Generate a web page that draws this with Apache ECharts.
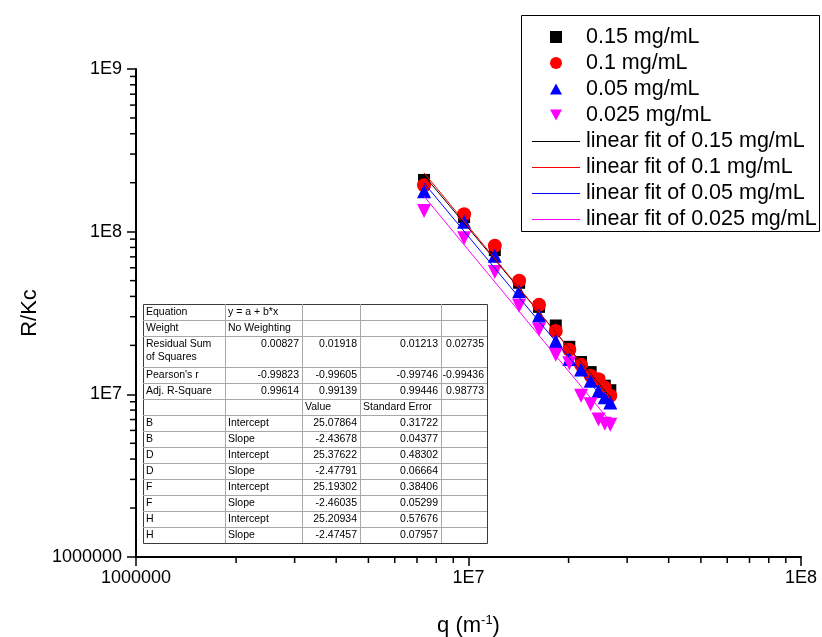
<!DOCTYPE html>
<html><head><meta charset="utf-8">
<script src="https://cdn.jsdelivr.net/npm/echarts@6/dist/echarts.min.js"></script>
<style>html,body{margin:0;padding:0;background:#fff}#c{width:822px;height:637px}</style>
</head><body><div id="c"></div>
<script>
// ---- data ----
const qValues = [7.35e6, 9.7e6, 1.2e7, 1.42e7, 1.63e7, 1.83e7, 2.01e7, 2.18e7, 2.33e7, 2.46e7, 2.57e7, 2.67e7];
const rk015  = [2.08e8, 1.23e8, 7.7e7, 4.85e7, 3.45e7, 2.65e7, 1.96e7, 1.58e7, 1.37e7, 1.21e7, 1.13e7, 1.06e7];
const rk010  = [1.93e8, 1.28e8, 8.2e7, 5.0e7, 3.55e7, 2.45e7, 1.88e7, 1.52e7, 1.30e7, 1.24e7, 1.10e7, 9.8e6];
const rk005  = [1.77e8, 1.15e8, 7.1e7, 4.3e7, 3.05e7, 2.13e7, 1.65e7, 1.42e7, 1.21e7, 1.05e7, 9.6e6, 8.9e6];
const rk0025 = [1.34e8, 9.1e7, 5.65e7, 3.5e7, 2.5e7, 1.75e7, 1.55e7, 9.8e6, 8.7e6, 7.0e6, 6.6e6, 6.5e6];
const seriesNames = ['0.15 mg/mL', '0.1 mg/mL', '0.05 mg/mL', '0.025 mg/mL'];
const fitNames = ['linear fit of 0.15 mg/mL', 'linear fit of 0.1 mg/mL', 'linear fit of 0.05 mg/mL', 'linear fit of 0.025 mg/mL'];
// fit line end points (q, R/Kc)
const fitQ      = [7.35e6, 2.67e7];
const fit015    = [2.22e8, 9.59e6];
const fit010    = [2.30e8, 9.42e6];
const fit005    = [1.99e8, 8.34e6];
const fit0025   = [1.65e8, 6.79e6];
// axes
const xTickValues = [1e6, 1e7, 1e8];
const xTickLabels = ['1000000', '1E7', '1E8'];
const yTickValues = [1e6, 1e7, 1e8, 1e9];
const yTickLabels = ['1000000', '1E7', '1E8', '1E9'];
const xMinorTicks = [2e6,3e6,4e6,5e6,6e6,7e6,8e6,9e6,2e7,3e7,4e7,5e7,6e7,7e7,8e7,9e7];
const yMinorTicks = [2e6,3e6,4e6,5e6,6e6,7e6,8e6,9e6,2e7,3e7,4e7,5e7,6e7,7e7,8e7,9e7,2e8,3e8,4e8,5e8,6e8,7e8,8e8,9e8];
// fit table
const tableRows = [
  ['Equation', 'y = a + b*x', '', '', ''],
  ['Weight', 'No Weighting', '', '', ''],
  ['Residual Sum\nof Squares', '0.00827', '0.01918', '0.01213', '0.02735'],
  ["Pearson's r", '-0.99823', '-0.99605', '-0.99746', '-0.99436'],
  ['Adj. R-Square', '0.99614', '0.99139', '0.99446', '0.98773'],
  ['', '', 'Value', 'Standard Error', ''],
  ['B', 'Intercept', '25.07864', '0.31722', ''],
  ['B', 'Slope', '-2.43678', '0.04377', ''],
  ['D', 'Intercept', '25.37622', '0.48302', ''],
  ['D', 'Slope', '-2.47791', '0.06664', ''],
  ['F', 'Intercept', '25.19302', '0.38406', ''],
  ['F', 'Slope', '-2.46035', '0.05299', ''],
  ['H', 'Intercept', '25.20934', '0.57676', ''],
  ['H', 'Slope', '-2.47457', '0.07957', '']
];

// ---- chart ----
const FONT = 'Liberation Sans, Arial, sans-serif';
const chart = echarts.init(document.getElementById('c'), null, {renderer: 'canvas'});

function tickLabel(values, labels) {
  return function (v) {
    for (let i = 0; i < values.length; i++) {
      if (Math.abs(Math.log10(v) - Math.log10(values[i])) < 1e-6) return labels[i];
    }
    return '';
  };
}
function pairs(xs, ys) { return xs.map((x, i) => [x, ys[i]]); }

const fitDefs = [
  {color: '#000000', data: fit015},
  {color: '#ff0000', data: fit010},
  {color: '#0000ff', data: fit005},
  {color: '#ff00ff', data: fit0025}
];

// table graphic
const colX = [143, 225, 302, 360, 441, 487];
const rowH = tableRows.map((r, i) => i === 2 ? 31 : 16);
const tableTop = 304;
const graphics = [];
let yy = tableTop;
const rowTops = [];
rowH.forEach(h => { rowTops.push(yy); yy += h; });
const tableBottom = yy;
graphics.push({type: 'rect', shape: {x: colX[0] + 0.5, y: tableTop + 0.5, width: colX[5] - colX[0], height: tableBottom - tableTop},
  style: {fill: '#fff', stroke: '#3a3a3a', lineWidth: 1}, z: 10});
for (let i = 1; i < tableRows.length; i++) {
  graphics.push({type: 'line', shape: {x1: colX[0], y1: rowTops[i] + 0.5, x2: colX[5], y2: rowTops[i] + 0.5},
    style: {stroke: '#a8a8a8', lineWidth: 1}, z: 11});
}
for (let c = 1; c < 5; c++) {
  graphics.push({type: 'line', shape: {x1: colX[c] + 0.5, y1: tableTop, x2: colX[c] + 0.5, y2: tableBottom},
    style: {stroke: '#a8a8a8', lineWidth: 1}, z: 11});
}
tableRows.forEach((row, r) => {
  row.forEach((txt, c) => {
    if (!txt) return;
    let align = 'left';
    if ((r >= 2 && r <= 4 && c >= 1) || (r >= 6 && c >= 2)) align = 'right';
    const x = align === 'left' ? colX[c] + 3 : colX[c + 1] - 3;
    const multi = r === 2;
    graphics.push({type: 'text', x: x, y: multi ? rowTops[r] + 2 : rowTops[r] + rowH[r] / 2 + 0.5, z: 12,
      style: {text: txt, textAlign: align, textVerticalAlign: multi ? 'top' : 'middle',
        fontSize: 10.5, fontFamily: FONT, fill: '#000', lineHeight: 12.5}});
  });
});
// legend frame and fit-line swatches
graphics.push({type: 'rect', shape: {x: 521.5, y: 15.5, width: 298, height: 216},
  style: {fill: '#fff', stroke: '#000', lineWidth: 1}, z: 0});
fitDefs.forEach((f, i) => {
  const y = 141.5 + 26 * i;
  graphics.push({type: 'line', shape: {x1: 532, y1: y, x2: 580, y2: y},
    style: {stroke: f.color, lineWidth: 1}, z: 20});
});

const minorTickSeries = (data, dir) => ({
  type: 'custom', silent: true, clip: false, z: 5, legendHoverLink: false,
  data: data,
  renderItem: function (params, api) {
    const p = api.coord([api.value(0), api.value(1)]);
    const shape = dir === 'x' ? {x1: p[0], y1: p[1], x2: p[0], y2: p[1] + 6}
                              : {x1: p[0], y1: p[1], x2: p[0] - 6, y2: p[1]};
    return {type: 'line', shape: shape, style: {stroke: '#000', lineWidth: 1.5}};
  }
});

const markerDefs = [
  {symbol: 'rect', size: 12, color: '#000000', rotate: 0, data: rk015},
  {symbol: 'circle', size: 14, color: '#ff0000', rotate: 0, data: rk010},
  {symbol: 'triangle', size: 14, color: '#0000ff', rotate: 0, data: rk005},
  {symbol: 'triangle', size: 14, color: '#ff00ff', rotate: 180, data: rk0025}
];
const legendIcons = ['path://M1,1L9,1L9,9L1,9Z', 'circle', 'path://M0,10L5,1L10,10Z', 'path://M0,1L10,1L5,10Z'];

const series = [];
markerDefs.forEach((m, i) => series.push({
  name: seriesNames[i], type: 'scatter', symbol: m.symbol, symbolSize: m.size, symbolRotate: m.rotate,
  itemStyle: {color: m.color, opacity: 1}, data: pairs(qValues, m.data), z: 2, emphasis: {disabled: true}
}));
fitDefs.forEach((f, i) => series.push({
  name: fitNames[i], type: 'line', symbol: 'none', showSymbol: false,
  lineStyle: {color: f.color, width: 1}, itemStyle: {color: f.color},
  data: pairs(fitQ, f.data), z: 3, emphasis: {disabled: true}
}));
series.push(minorTickSeries(xMinorTicks.map(v => [v, 1e6]), 'x'));
series.push(minorTickSeries(yMinorTicks.map(v => [1e6, v]), 'y'));

const option = {
  animation: false,
  backgroundColor: '#ffffff',
  grid: {left: 136, right: 21, top: 69, bottom: 80, containLabel: false, outerBoundsMode: 'none'},
  legend: [
    {
      orient: 'vertical', left: 550, top: 26, padding: 0,
      itemWidth: 12, itemHeight: 12, itemGap: 4,
      selectedMode: false,
      textStyle: {fontSize: 21.5, fontFamily: FONT, color: '#000', lineHeight: 21, padding: [0, 0, 0, 19]},
      data: seriesNames.map((n, i) => ({name: n, icon: legendIcons[i]}))
    },
    {
      orient: 'vertical', left: 532, top: 130.5, padding: 0,
      itemWidth: 48, itemHeight: 1, itemGap: 4,
      selectedMode: false,
      textStyle: {fontSize: 21.5, fontFamily: FONT, color: '#000', lineHeight: 21, padding: [0, 0, 0, 1]},
      data: fitNames.map(n => ({name: n, icon: 'rect', itemStyle: {opacity: 0}}))
    }
  ],
  xAxis: {
    type: 'log', logBase: 10, min: 1e6, max: 1e8,
    axisLine: {show: true, onZero: false, lineStyle: {color: '#000', width: 2}},
    axisTick: {show: true, inside: false, length: 9, lineStyle: {color: '#000', width: 1.5}},
    minorTick: {show: false}, splitLine: {show: false},
    axisLabel: {formatter: tickLabel(xTickValues, xTickLabels), fontSize: 18, fontFamily: FONT, color: '#000', margin: 12},
    name: 'q (m{sup|-1})', nameLocation: 'middle', nameGap: 57,
    nameTextStyle: {fontSize: 22, fontFamily: FONT, color: '#000', lineHeight: 24,
      rich: {sup: {fontSize: 13, fontFamily: FONT, color: '#000', verticalAlign: 'top', lineHeight: 14}}}
  },
  yAxis: {
    type: 'log', logBase: 10, min: 1e6, max: 1e9,
    axisLine: {show: true, onZero: false, lineStyle: {color: '#000', width: 2}},
    axisTick: {show: true, inside: false, length: 9, lineStyle: {color: '#000', width: 1.5}},
    minorTick: {show: false}, splitLine: {show: false},
    axisLabel: {formatter: tickLabel(yTickValues, yTickLabels), fontSize: 18, fontFamily: FONT, color: '#000', margin: 14},
    name: 'R/Kc', nameLocation: 'middle', nameRotate: 90, nameGap: 94,
    nameTextStyle: {fontSize: 22, fontFamily: FONT, color: '#000'}
  },
  graphic: graphics,
  series: series
};
chart.setOption(option);
</script>
</body></html>
